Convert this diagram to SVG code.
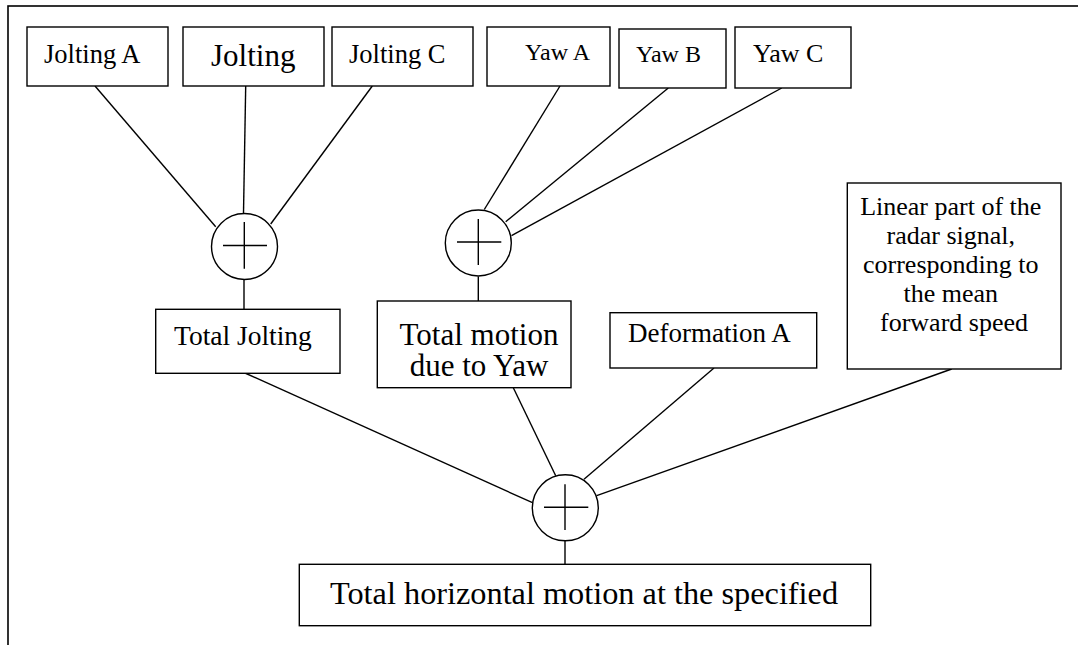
<svg xmlns="http://www.w3.org/2000/svg" width="1078" height="645" viewBox="0 0 1078 645">
  <style>
    .box { fill: #ffffff; stroke: #000000; stroke-width: 1.4; }
    .sum { fill: #ffffff; stroke: #000000; stroke-width: 1.4; }
    .plus { stroke: #000000; stroke-width: 1.4; fill: none; }
    .link { stroke: #000000; stroke-width: 1.4; fill: none; }
    .lbl { font-family: "Liberation Serif", "Times New Roman", serif; fill: #000000; }
  </style>
  <rect width="1078" height="645" fill="#ffffff"/>
  <!-- outer frame -->
  <rect x="8" y="6" width="1090" height="660" fill="none" stroke="#000000" stroke-width="1.6"/>

  <!-- connectors -->
  <g id="connectors">
    <line class="link" x1="95" y1="86" x2="215.7" y2="226.7"/>
    <line class="link" x1="245.7" y1="86" x2="243.5" y2="213"/>
    <line class="link" x1="372.3" y1="86" x2="270.7" y2="224"/>
    <line class="link" x1="244" y1="280" x2="244" y2="309"/>
    <line class="link" x1="560" y1="86" x2="484.3" y2="209.5"/>
    <line class="link" x1="668.3" y1="88" x2="505.7" y2="221.7"/>
    <line class="link" x1="781.7" y1="88" x2="511.5" y2="235.7"/>
    <line class="link" x1="478.3" y1="276.5" x2="478.3" y2="301"/>
    <line class="link" x1="245" y1="373" x2="532.5" y2="502.7"/>
    <line class="link" x1="513.3" y1="387.7" x2="555.7" y2="475.7"/>
    <line class="link" x1="714" y1="368" x2="584" y2="479.3"/>
    <line class="link" x1="951.7" y1="369" x2="596.7" y2="495.7"/>
    <line class="link" x1="565" y1="541" x2="565" y2="564.3"/>
  </g>

  <g id="jolting-a">
    <rect class="box" x="27" y="27" width="141" height="59"/>
    <text class="lbl" x="44" y="63" font-size="26.5">Jolting A</text>
  </g>
  <g id="jolting-b">
    <rect class="box" x="183" y="27" width="141" height="59"/>
    <text class="lbl" x="211" y="66" font-size="31">Jolting</text>
  </g>
  <g id="jolting-c">
    <rect class="box" x="332" y="27" width="141" height="59"/>
    <text class="lbl" x="349" y="63" font-size="26.5">Jolting C</text>
  </g>
  <g id="yaw-a">
    <rect class="box" x="487" y="27" width="123" height="59"/>
    <text class="lbl" x="590" y="60" font-size="24" text-anchor="end">Yaw A</text>
  </g>
  <g id="yaw-b">
    <rect class="box" x="619" y="29" width="107" height="59"/>
    <text class="lbl" x="636" y="62" font-size="24">Yaw B</text>
  </g>
  <g id="yaw-c">
    <rect class="box" x="735" y="27" width="116" height="61"/>
    <text class="lbl" x="753" y="62" font-size="26">Yaw C</text>
  </g>

  <g id="sum-jolting">
    <circle class="sum" cx="244.5" cy="246.5" r="33"/>
    <path class="plus" d="M223 245.5 H267 M244.3 222 V268.7"/>
  </g>
  <g id="sum-yaw">
    <circle class="sum" cx="478.3" cy="243" r="33"/>
    <path class="plus" d="M457 242 H501.3 M478.3 219 V265"/>
  </g>

  <g id="total-jolting">
    <rect class="box" x="155.7" y="309.3" width="184.3" height="64"/>
    <text class="lbl" x="174" y="345" font-size="27.5">Total Jolting</text>
  </g>
  <g id="total-yaw">
    <rect class="box" x="377.3" y="301" width="193.7" height="86.7"/>
    <text class="lbl" x="479" y="345" font-size="31" text-anchor="middle">Total motion</text>
    <text class="lbl" x="479" y="376" font-size="31" text-anchor="middle">due to Yaw</text>
  </g>
  <g id="deformation-a">
    <rect class="box" x="610" y="312.7" width="206.7" height="55.3"/>
    <text class="lbl" x="628" y="342" font-size="27">Deformation A</text>
  </g>
  <g id="linear-part">
    <rect class="box" x="847.3" y="183" width="213.7" height="186"/>
    <text class="lbl" font-size="26" text-anchor="middle">
      <tspan x="954" y="215">Linear part of the</tspan>
      <tspan x="954" y="244">radar signal,</tspan>
      <tspan x="954" y="273">corresponding to</tspan>
      <tspan x="954" y="302">the mean</tspan>
      <tspan x="954" y="331">forward speed</tspan>
    </text>
  </g>

  <g id="sum-total">
    <circle class="sum" cx="565.3" cy="507.8" r="33"/>
    <path class="plus" d="M544 507.3 H588.3 M565 484.3 V530"/>
  </g>

  <g id="total-horizontal">
    <rect class="box" x="299.3" y="564.3" width="571.4" height="61.4"/>
    <text class="lbl" x="330" y="604" font-size="32.3">Total horizontal motion at the specified</text>
  </g>
</svg>
